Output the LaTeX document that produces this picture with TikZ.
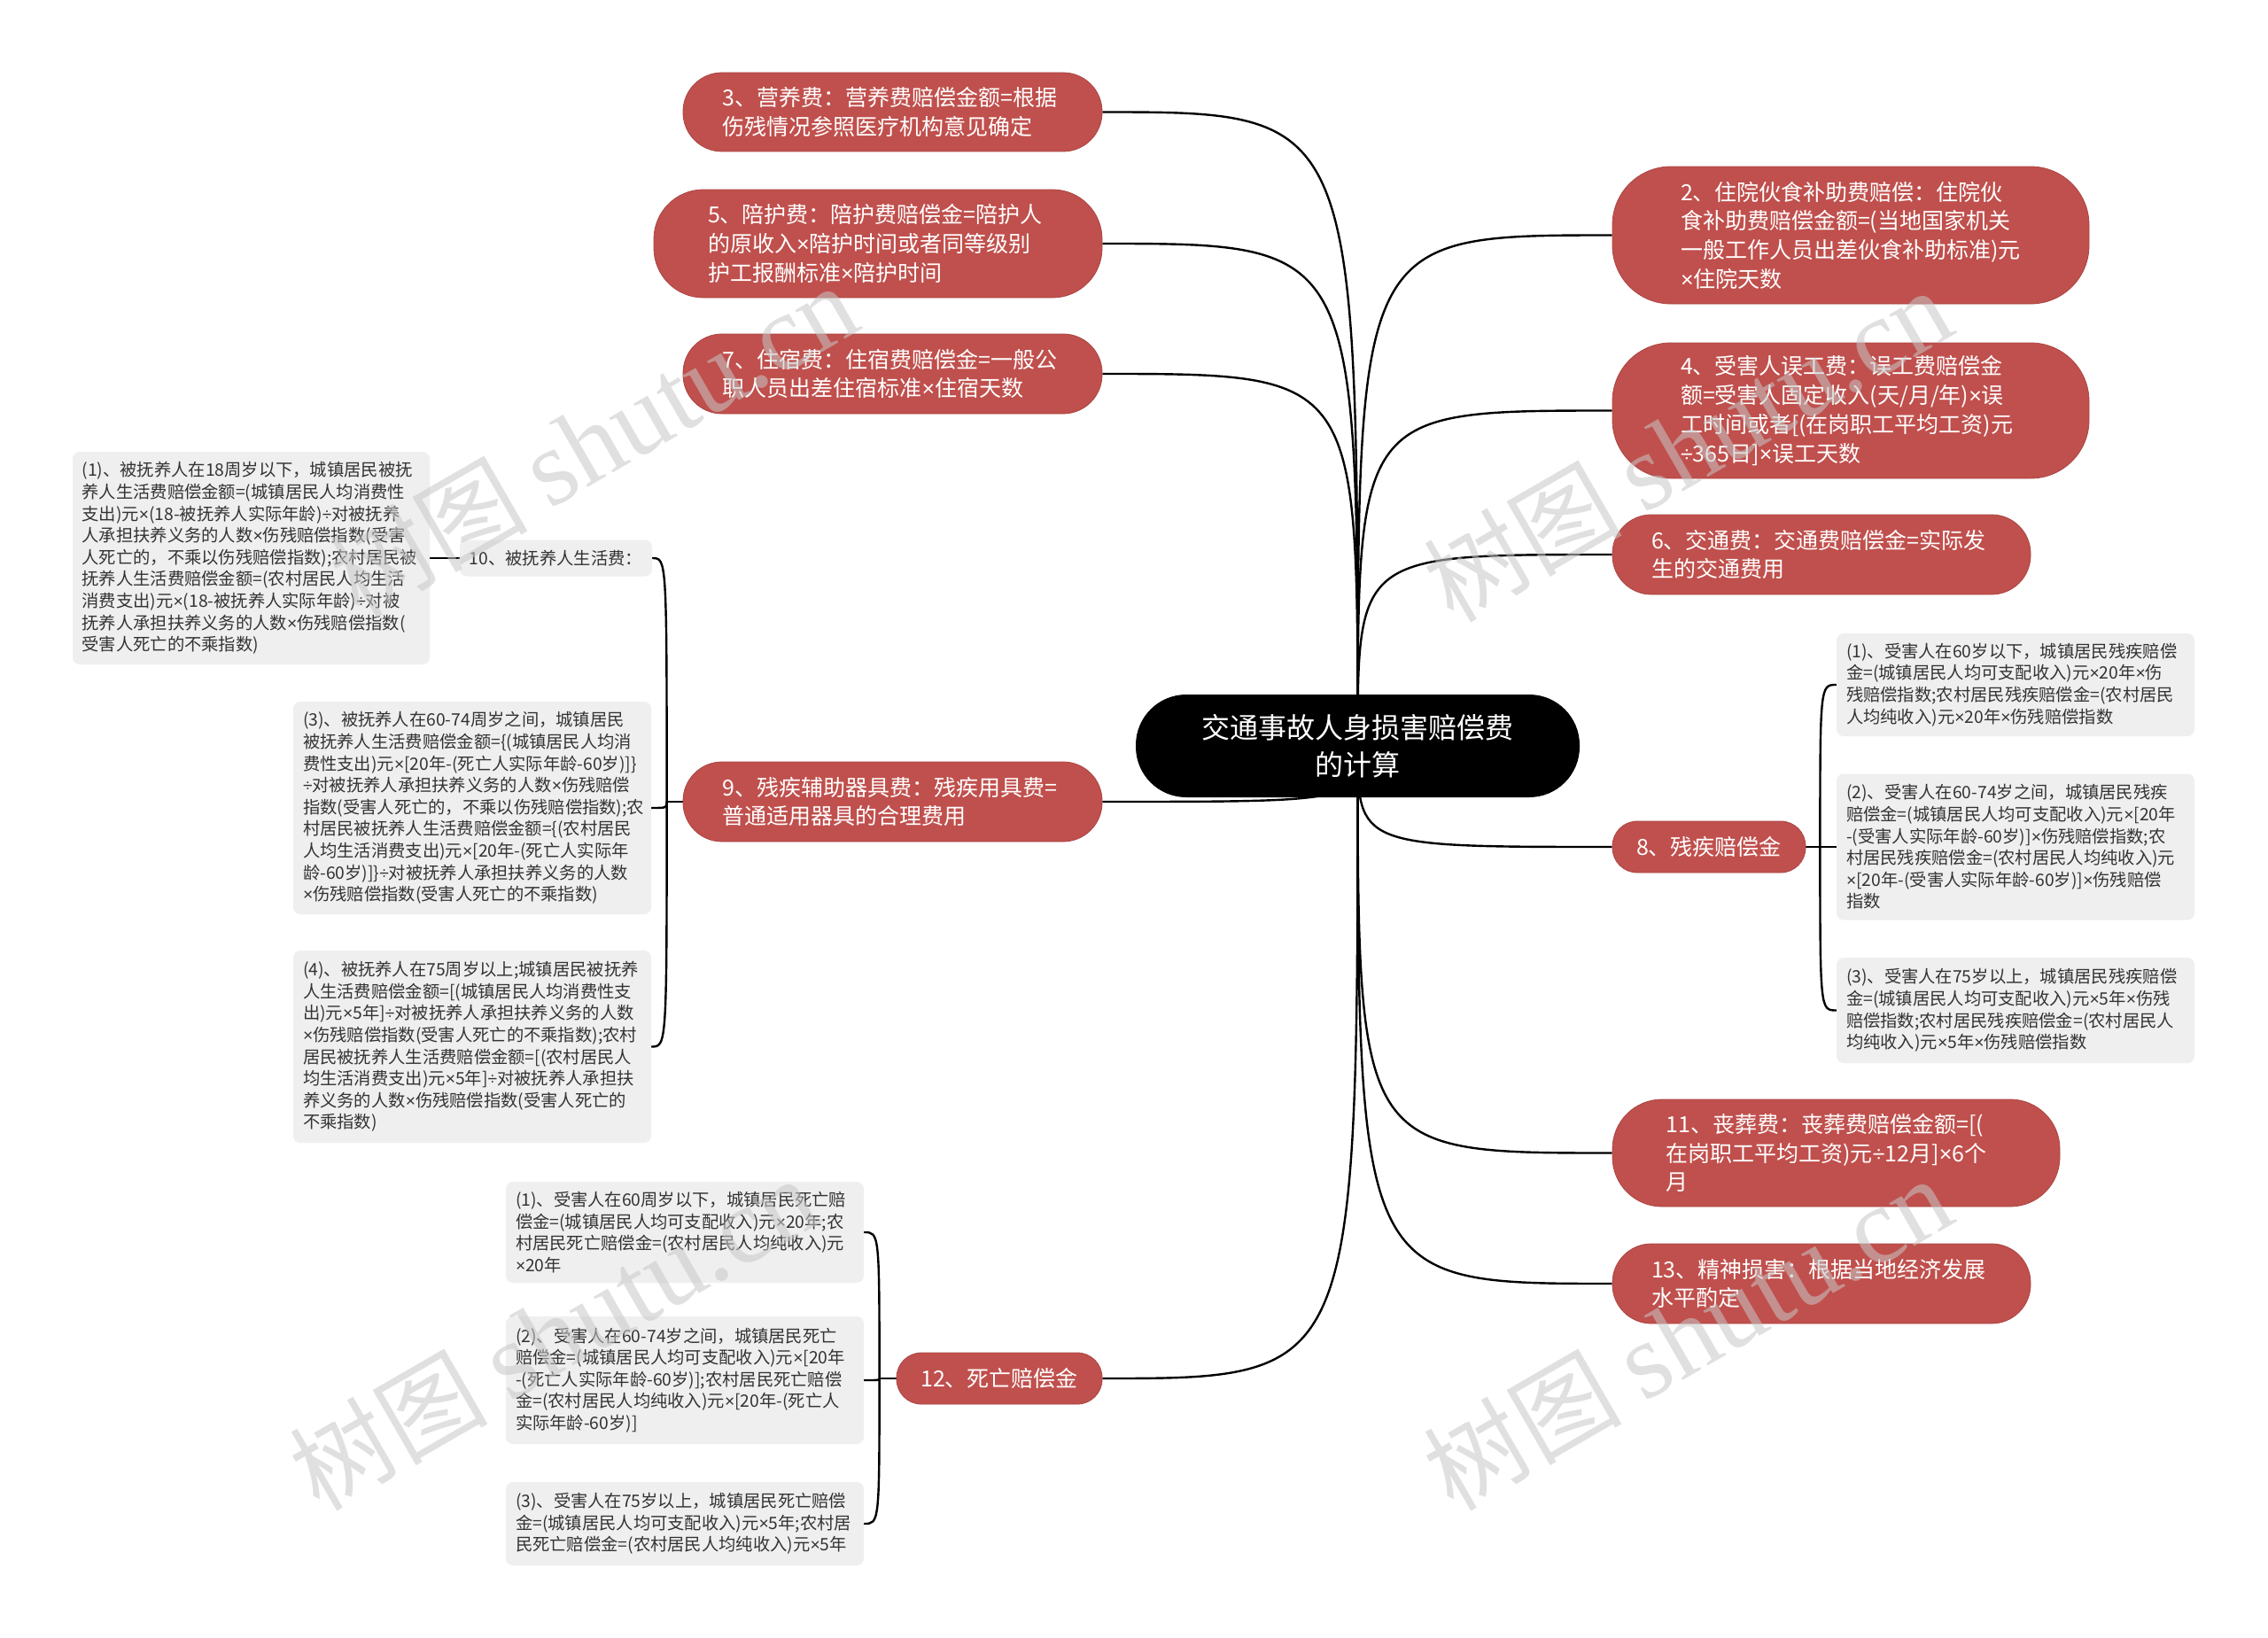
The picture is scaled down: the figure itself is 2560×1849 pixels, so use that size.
\documentclass[tikz,border=0pt]{standalone}
\usepackage{fontspec}
\setmainfont{Noto Sans CJK SC}
\newfontfamily\wmserif{Liberation Serif}
\newfontfamily\latinfont{Liberation Sans}
\newcommand\tm{{\latinfont ×}}
\newcommand\dv{{\latinfont ÷}}
\exhyphenpenalty=10000
\hyphenpenalty=10000
\usetikzlibrary{calc,backgrounds}
\definecolor{nodered}{RGB}{192,80,77}
\definecolor{boxgrey}{RGB}{239,239,239}
\definecolor{textgrey}{RGB}{51,51,51}
\tikzset{
  conn/.style={line width=2.4pt, black},
  rednode/.style={fill=nodered, draw=nodered!88!black, line width=0.8pt, text=white,
    font=\fontsize{25}{32.7}\selectfont, inner sep=0pt, align=left},
  greynode/.style={fill=boxgrey, text=textgrey, font=\fontsize{19.3}{24.6}\selectfont,
    inner sep=0pt, align=left, rounded corners=8pt},
  centernode/.style={fill=black, text=white, font=\fontsize{32}{42}\selectfont,
    inner sep=0pt, align=center, rounded corners=57pt, minimum width=501pt, minimum height=116pt},
  wmark/.style={font=\fontsize{112}{112}\selectfont, text=black!22, text opacity=0.55,
    anchor=base west, rotate=30, inner sep=0pt}
}
\newcommand\wmtext{树图 {\wmserif\fontsize{122}{122}\selectfont shutu.cn}}
\begin{document}
\begin{tikzpicture}[x=1pt,y=-1pt]
\useasboundingbox (0,0) rectangle (2560,1849);

% center
\node[centernode] (c) at (1532.5,842) {交通事故人身损害赔偿费\\的计算};

% left red nodes
\node[rednode, text width=384pt, minimum width=473pt, minimum height=89pt, rounded corners=44pt] (n3) at (1007.5,126.5)
  {3、营养费：营养费赔偿金额=根据\\伤残情况参照医疗机构意见确定};
\node[rednode, text width=384pt, minimum width=506pt, minimum height=122pt, rounded corners=56pt] (n5) at (991,275)
  {5、陪护费：陪护费赔偿金=陪护人\\的原收入\tm{}陪护时间或者同等级别\\护工报酬标准\tm{}陪护时间};
\node[rednode, text width=384pt, minimum width=473pt, minimum height=90pt, rounded corners=44pt] (n7) at (1007.5,422)
  {7、住宿费：住宿费赔偿金=一般公\\职人员出差住宿标准\tm{}住宿天数};
\node[rednode, text width=384pt, minimum width=473pt, minimum height=90pt, rounded corners=44pt] (n9) at (1007.5,905)
  {9、残疾辅助器具费：残疾用具费=\\普通适用器具的合理费用};
\node[rednode, align=center, minimum width=232pt, minimum height=58pt, rounded corners=28pt] (n12) at (1128,1556)
  {12、死亡赔偿金};

% right red nodes
\node[rednode, text width=384pt, minimum width=538pt, minimum height=155pt, rounded corners=66pt] (n2) at (2089,265.5)
  {2、住院伙食补助费赔偿：住院伙\\食补助费赔偿金额=(当地国家机关\\一般工作人员出差伙食补助标准)元\\\tm{}住院天数};
\node[rednode, text width=384pt, minimum width=538pt, minimum height=153pt, rounded corners=66pt] (n4) at (2089,463.5)
  {4、受害人误工费：误工费赔偿金\\额=受害人固定收入(天/月/年)\tm{}误\\工时间或者[(在岗职工平均工资)元\\\dv{}365日]\tm{}误工天数};
\node[rednode, text width=384pt, minimum width=472pt, minimum height=90pt, rounded corners=44pt] (n6) at (2056,626)
  {6、交通费：交通费赔偿金=实际发\\生的交通费用};
\node[rednode, align=center, minimum width=218pt, minimum height=58pt, rounded corners=28pt] (n8) at (1929,956)
  {8、残疾赔偿金};
\node[rednode, text width=384pt, minimum width=505pt, minimum height=121pt, rounded corners=56pt] (n11) at (2072.5,1301.5)
  {11、丧葬费：丧葬费赔偿金额=[(\\在岗职工平均工资)元\dv{}12月]\tm{}6个\\月};
\node[rednode, text width=384pt, minimum width=472pt, minimum height=90pt, rounded corners=44pt] (n13) at (2056,1449)
  {13、精神损害：根据当地经济发展\\水平酌定};

% grey nodes of branch 9
\node[greynode, align=center, minimum width=217pt, minimum height=41pt] (g10) at (627.5,630)
  {10、被抚养人生活费：};
\node[greynode, text width=382pt, minimum width=403pt, minimum height=240pt] (g10a) at (283.5,630)
  {(1)、被抚养人在18周岁以下，城镇居民被抚\\养人生活费赔偿金额=(城镇居民人均消费性\\支出)元\tm{}(18-被抚养人实际年龄)\dv{}对被抚养\\人承担扶养义务的人数\tm{}伤残赔偿指数(受害\\人死亡的，不乘以伤残赔偿指数);农村居民被\\抚养人生活费赔偿金额=(农村居民人均生活\\消费支出)元\tm{}(18-被抚养人实际年龄)\dv{}对被\\抚养人承担扶养义务的人数\tm{}伤残赔偿指数(\\受害人死亡的不乘指数)};
\node[greynode, text width=382pt, minimum width=404pt, minimum height=240pt] (g10c) at (533,912)
  {(3)、被抚养人在60-74周岁之间，城镇居民\\被抚养人生活费赔偿金额=\{(城镇居民人均消\\费性支出)元\tm{}[20年-(死亡人实际年龄-60岁)]\}\\\dv{}对被抚养人承担扶养义务的人数\tm{}伤残赔偿\\指数(受害人死亡的，不乘以伤残赔偿指数);农\\村居民被抚养人生活费赔偿金额=\{(农村居民\\人均生活消费支出)元\tm{}[20年-(死亡人实际年\\龄-60岁)]\}\dv{}对被抚养人承担扶养义务的人数\\\tm{}伤残赔偿指数(受害人死亡的不乘指数)};
\node[greynode, text width=382pt, minimum width=404pt, minimum height=217pt] (g10d) at (533,1181.5)
  {(4)、被抚养人在75周岁以上;城镇居民被抚养\\人生活费赔偿金额=[(城镇居民人均消费性支\\出)元\tm{}5年]\dv{}对被抚养人承担扶养义务的人数\\\tm{}伤残赔偿指数(受害人死亡的不乘指数);农村\\居民被抚养人生活费赔偿金额=[(农村居民人\\均生活消费支出)元\tm{}5年]\dv{}对被抚养人承担扶\\养义务的人数\tm{}伤残赔偿指数(受害人死亡的\\不乘指数)};

% grey nodes of branch 8
\node[greynode, text width=382pt, minimum width=404pt, minimum height=116pt] (g8a) at (2275,773)
  {(1)、受害人在60岁以下，城镇居民残疾赔偿\\金=(城镇居民人均可支配收入)元\tm{}20年\tm{}伤\\残赔偿指数;农村居民残疾赔偿金=(农村居民\\人均纯收入)元\tm{}20年\tm{}伤残赔偿指数};
\node[greynode, text width=382pt, minimum width=404pt, minimum height=165pt] (g8b) at (2275,956)
  {(2)、受害人在60-74岁之间，城镇居民残疾\\赔偿金=(城镇居民人均可支配收入)元\tm{}[20年\\-(受害人实际年龄-60岁)]\tm{}伤残赔偿指数;农\\村居民残疾赔偿金=(农村居民人均纯收入)元\\\tm{}[20年-(受害人实际年龄-60岁)]\tm{}伤残赔偿\\指数};
\node[greynode, text width=382pt, minimum width=404pt, minimum height=119pt] (g8c) at (2275,1140.5)
  {(3)、受害人在75岁以上，城镇居民残疾赔偿\\金=(城镇居民人均可支配收入)元\tm{}5年\tm{}伤残\\赔偿指数;农村居民残疾赔偿金=(农村居民人\\均纯收入)元\tm{}5年\tm{}伤残赔偿指数};

% grey nodes of branch 12
\node[greynode, text width=382pt, minimum width=404pt, minimum height=114pt] (g12a) at (773,1391)
  {(1)、受害人在60周岁以下，城镇居民死亡赔\\偿金=(城镇居民人均可支配收入)元\tm{}20年;农\\村居民死亡赔偿金=(农村居民人均纯收入)元\\\tm{}20年};
\node[greynode, text width=382pt, minimum width=404pt, minimum height=144pt] (g12b) at (773,1558)
  {(2)、受害人在60-74岁之间，城镇居民死亡\\赔偿金=(城镇居民人均可支配收入)元\tm{}[20年\\-(死亡人实际年龄-60岁)];农村居民死亡赔偿\\金=(农村居民人均纯收入)元\tm{}[20年-(死亡人\\实际年龄-60岁)]};
\node[greynode, text width=382pt, minimum width=404pt, minimum height=94pt] (g12c) at (773,1720)
  {(3)、受害人在75岁以上，城镇居民死亡赔偿\\金=(城镇居民人均可支配收入)元\tm{}5年;农村居\\民死亡赔偿金=(农村居民人均纯收入)元\tm{}5年};

\coordinate (s9) at ($(n9.west)+(-18,0)$);
\coordinate (s8) at ($(n8.east)+(16,0)$);
\coordinate (s12) at ($(n12.west)+(-19,0)$);

\begin{scope}[on background layer]
  \fill[white] (0,0) rectangle (2560,1849);
  \foreach \n in {n3,n5,n7,n9,n12}
    \draw[conn] (c.center) .. controls (c.center |- \n.east) .. (\n.east);
  \foreach \n in {n2,n4,n6,n8,n11,n13}
    \draw[conn] (c.center) .. controls (c.center |- \n.west) .. (\n.west);
  \draw[conn] (n9.west) -- (s9);
  \foreach \m in {g10,g10c,g10d}
    \draw[conn] (s9) .. controls (s9 |- \m.east) .. (\m.east);
  \draw[conn] (g10.west) -- (g10a.east);
  \draw[conn] (n8.east) -- (s8);
  \foreach \m in {g8a,g8b,g8c}
    \draw[conn] (s8) .. controls (s8 |- \m.west) .. (\m.west);
  \draw[conn] (n12.west) -- (s12);
  \foreach \m in {g12a,g12b,g12c}
    \draw[conn] (s12) .. controls (s12 |- \m.east) .. (\m.east);
\end{scope}

% watermarks
\node[wmark] (wm1) at (405,700) {\wmtext};
\node[wmark] (wm2) at (1640,705) {\wmtext};
\node[wmark] (wm3) at (360,1708) {\wmtext};
\node[wmark] (wm4) at (1640,1708) {\wmtext};
\end{tikzpicture}
\end{document}
